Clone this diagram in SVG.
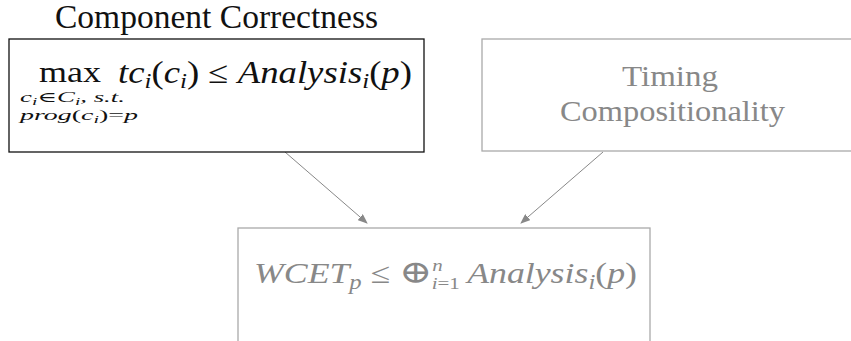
<svg xmlns="http://www.w3.org/2000/svg" width="851" height="341" viewBox="0 0 851 341" font-family="Liberation Serif, DejaVu Serif, serif">
<style>
.it{font-style:italic;}
.box{fill:#fff;stroke-width:1.3;}
.g{fill:#888;}
.k{fill:#111;}
</style>
<defs>
<marker id="ah" markerWidth="10" markerHeight="8" refX="9" refY="4" orient="auto" markerUnits="userSpaceOnUse">
<path d="M0,0 L10,4 L0,8 Z" fill="#888"/>
</marker>
</defs>
<g id="connectors" stroke="#888" stroke-width="1" fill="none">
<line x1="285" y1="152" x2="367" y2="223" marker-end="url(#ah)"/>
<line x1="603" y1="152" x2="521" y2="223" marker-end="url(#ah)"/>
</g>
<g id="component-correctness">
<text x="55" y="28" font-size="33" class="k" textLength="323" lengthAdjust="spacingAndGlyphs">Component Correctness</text>
<rect class="box" x="9" y="39" width="415" height="113" stroke="#111"/>
<text x="39" y="82" font-size="29" class="k" textLength="62" lengthAdjust="spacingAndGlyphs">max</text>
<text x="20" y="102" font-size="14" class="k it" textLength="105" lengthAdjust="spacingAndGlyphs">c<tspan font-size="10" dy="3">i</tspan><tspan dy="-3" font-style="normal">∈</tspan>C<tspan font-size="10" dy="3">i</tspan><tspan dy="-3">,  s.t.</tspan></text>
<text x="20" y="120" font-size="14" class="k it" textLength="118" lengthAdjust="spacingAndGlyphs">prog<tspan font-style="normal">(</tspan>c<tspan font-size="10" dy="3">i</tspan><tspan dy="-3" font-style="normal">)=</tspan>p</text>
<text x="118" y="83" font-size="31" class="k" textLength="294" lengthAdjust="spacingAndGlyphs"><tspan class="it">tc</tspan><tspan font-size="21" dy="5" class="it">i</tspan><tspan dy="-5">(</tspan><tspan class="it">c</tspan><tspan font-size="21" dy="5" class="it">i</tspan><tspan dy="-5">) ≤ </tspan><tspan class="it">Analysis</tspan><tspan font-size="21" dy="5" class="it">i</tspan><tspan dy="-5">(</tspan><tspan class="it">p</tspan>)</text>
</g>
<g id="timing-compositionality">
<rect class="box" x="482" y="39" width="385" height="112" stroke="#aaa"/>
<text x="622" y="86" font-size="30" class="g" textLength="96" lengthAdjust="spacingAndGlyphs">Timing</text>
<text x="560" y="121" font-size="30" class="g" textLength="225" lengthAdjust="spacingAndGlyphs">Compositionality</text>
</g>
<g id="wcet">
<rect class="box" x="238" y="228" width="412" height="125" stroke="#aaa"/>
<text x="254" y="283" font-size="29" class="g" textLength="383" lengthAdjust="spacingAndGlyphs"><tspan class="it">WCET</tspan><tspan font-size="20" dy="6" class="it">p</tspan><tspan dy="-6"> ≤ </tspan><tspan font-size="32">⊕</tspan><tspan font-size="17" dy="-12" class="it">n</tspan><tspan font-size="17" dx="-9" dy="18"><tspan class="it">i</tspan>=1</tspan><tspan dy="-6" dx="6" class="it">Analysis</tspan><tspan font-size="20" dy="6" class="it">i</tspan><tspan dy="-6">(</tspan><tspan class="it">p</tspan>)</text>
</g>
</svg>
